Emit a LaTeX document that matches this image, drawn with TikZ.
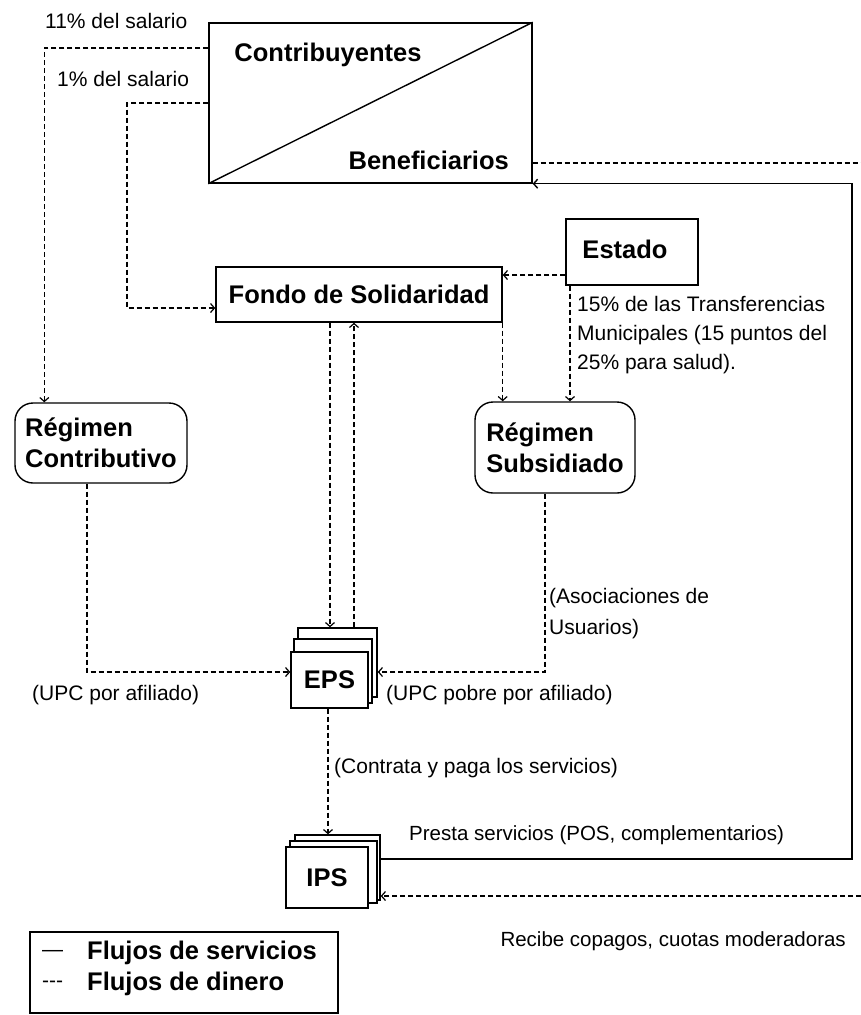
\documentclass[tikz,border=0pt]{standalone}
\usepackage{fontspec}
\setmainfont{Liberation Sans}
\usetikzlibrary{arrows.meta,calc}
\tikzset{
  lbl/.style={font=\fontsize{21}{29}\selectfont, inner sep=0pt, align=left},
  bold/.style={font=\fontsize{25.5}{31}\selectfont\bfseries, inner sep=0pt},
  box/.style={draw, line width=1.4pt, fill=white, inner sep=0pt},
  rbox/.style={box, rounded corners=18pt, align=left},
  money/.style={line width=1.2pt, dash pattern=on 5pt off 3pt, -{Straight Barb[length=4pt,width=9pt]}},
  moneyplain/.style={line width=1.2pt, dash pattern=on 5pt off 3pt},
  service/.style={line width=1.4pt, -{Straight Barb[length=4pt,width=9pt]}}
}
\begin{document}
\begin{tikzpicture}[x=1pt,y=-1pt]
\useasboundingbox (0,0) rectangle (861,1015);
% top box
\node[box, minimum width=323pt, minimum height=160pt] (contrib) at (370.5,103) {};
\draw[line width=1.4pt] (contrib.south west) -- (contrib.north east);
\node[bold] (tcontrib) at (328,55) {Contribuyentes};
\node[bold, anchor=east] (tbenef) at (509,160) {Beneficiarios};
% Fondo, Estado
\node[box, bold, minimum width=286pt, minimum height=55pt] (fondo) at (359,294.5) {Fondo de Solidaridad};
\node[box, minimum width=132pt, minimum height=66pt] (estado) at (632,252) {};
\node[bold] (testado) at (625,249) {Estado};
% Regimenes
\node[rbox, bold, minimum width=172pt, minimum height=80pt] (regc) at (101,443) {Régimen\\Contributivo};
\node[rbox, bold, minimum width=160pt, minimum height=91pt] (regs) at (555,447.5) {Régimen\\Subsidiado};
% EPS stack
\node[box, minimum width=79pt, minimum height=69pt] (epsb) at (337.5,662.5) {};
\node[box, minimum width=78pt, minimum height=64pt] (epsm) at (333,671) {};
\node[box, bold, minimum width=77pt, minimum height=56pt] (epsf) at (329.5,680) {EPS};
% IPS stack
\node[box, minimum width=85pt, minimum height=65pt] (ipsb) at (337.5,867.5) {};
\node[box, minimum width=87pt, minimum height=62pt] (ipsm) at (333.5,872) {};
\node[box, bold, minimum width=82pt, minimum height=61pt] (ipsf) at (327,877.5) {IPS};
% connectors (money)
\draw[money] (contrib.west |- 0,48) -| ([xshift=30pt]regc.north west);
\draw[money] (contrib.west |- 0,103) -- (127,103) |- (fondo.west |- 0,308);
\draw[money] (estado.west |- 0,275) -- (fondo.east |- 0,275);
\draw[money] (570,0 |- estado.south) -- (570,0 |- regs.north);
\draw[money] (fondo.south east) -- (fondo.south east |- regs.north);
\draw[money] (330,0 |- fondo.south) -- (330,0 |- epsb.north);
\draw[money] (354,0 |- epsb.north) -- (354,0 |- fondo.south);
\draw[money] (87,0 |- regc.south) |- (epsf.west |- 0,672);
\draw[money] (545,0 |- regs.south) |- (epsb.east |- 0,672);
\draw[money] (328,0 |- epsf.south) -- (328,0 |- ipsb.north);
\coordinate (edgeA) at (861,163);
\coordinate (edgeB) at (861,896);
\draw[moneyplain] (contrib.east |- edgeA) -- (edgeA);
\draw[money] (edgeB) -- (ipsb.east |- edgeB);
% service flow
\draw[service] (ipsb.east |- 0,859) -- (852,859) |- (contrib.south east);
% labels
\node[lbl, anchor=west] (l11) at (45,21) {11\% del salario};
\node[lbl, anchor=west] (l1) at (57,79) {1\% del salario};
\node[lbl, anchor=west] (lest) at (577,335) {15\% de las Transferencias\\Municipales (15 puntos del\\25\% para salud).};
\node[lbl, anchor=west, font=\fontsize{21}{31}\selectfont] (lasoc) at (549,614) {(Asociaciones de\\Usuarios)};
\node[lbl, anchor=west] (lupc) at (32,695) {(UPC por afiliado)};
\node[lbl, anchor=west] (lupcp) at (386,695) {(UPC pobre por afiliado)};
\node[lbl, anchor=west] (lcontr) at (334,768) {(Contrata y paga los servicios)};
\node[lbl, anchor=west, font=\fontsize{20.5}{25}\selectfont] (lpresta) at (409,835) {Presta servicios (POS, complementarios)};
\node[lbl, anchor=east, font=\fontsize{20.5}{25}\selectfont] (lrecibe) at (846,941) {Recibe copagos, cuotas moderadoras};
% legend
\node[box, minimum width=308pt, minimum height=81pt] (legend) at (184,972.5) {};
\node[lbl, anchor=west] (dash1) at (42,953) {—};
\node[bold, anchor=west] (leg1) at (87,953) {Flujos de servicios};
\node[lbl, anchor=west] (dash2) at (42,984) {-{}-{}-};
\node[bold, anchor=west] (leg2) at (87,984) {Flujos de dinero};
\end{tikzpicture}
\end{document}
